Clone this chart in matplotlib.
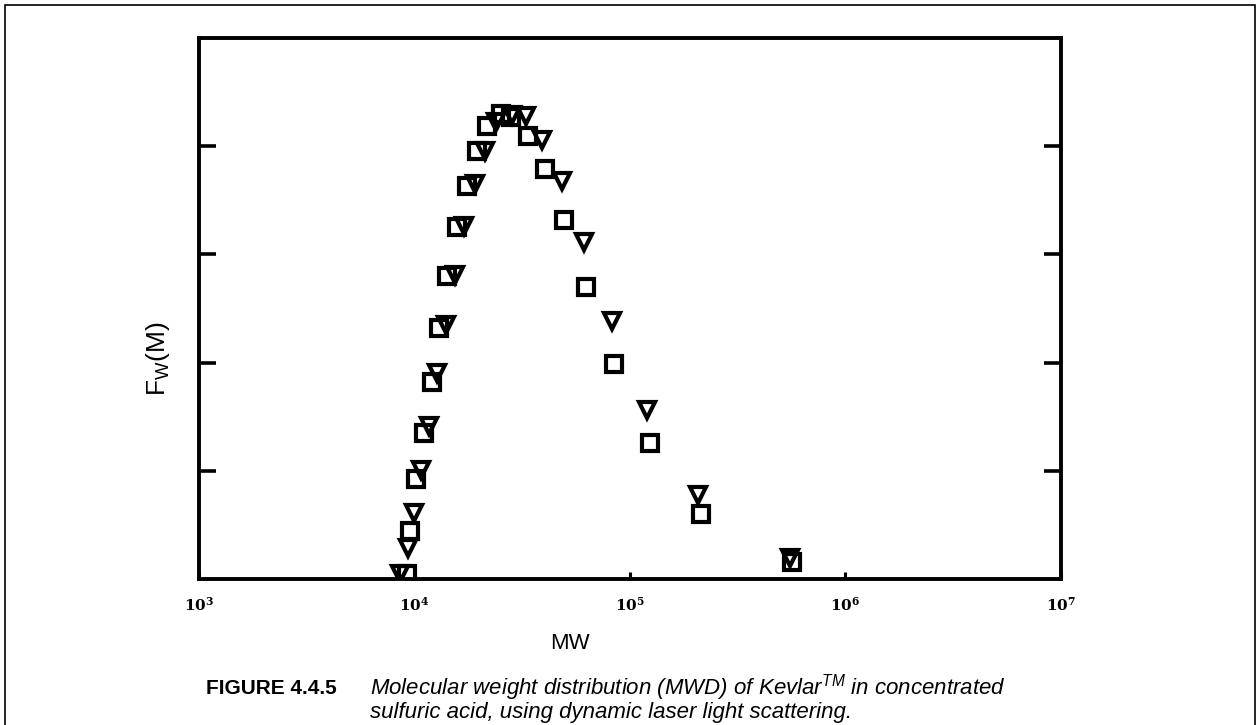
import matplotlib
matplotlib.use("Agg")
import matplotlib.pyplot as plt
from matplotlib.patches import Rectangle

# MWD of Kevlar in sulfuric acid
# squares (open)
sq_mw = [9180, 9570, 10200, 11120, 11990, 12920, 14220, 15820, 17590, 19570,
         21780, 25290, 28120, 33720, 40390, 49440, 62520, 84300, 123900,
         213400, 562300]
sq_fw = [0.05, 0.44, 0.92, 1.35, 1.82, 2.32, 2.80, 3.25, 3.63, 3.96,
         4.19, 4.30, 4.27, 4.09, 3.79, 3.32, 2.70, 1.99, 1.26,
         0.60, 0.16]
# triangles (open, pointing down)
tri_mw = [8530, 9290, 9890, 10660, 11730, 12770, 14060, 15480, 17030, 19130,
          21310, 23970, 28450, 33040, 39170, 48410, 61230, 82600, 119900,
          206600, 550600]
tri_fw = [0.05, 0.29, 0.61, 1.01, 1.41, 1.90, 2.35, 2.81, 3.26, 3.65,
          3.96, 4.22, 4.29, 4.28, 4.06, 3.68, 3.11, 2.38, 1.56,
          0.78, 0.19]

xticks = [1e3, 1e4, 1e5, 1e6, 1e7]
xlabels = [r'$\mathbf{10^{3}}$', r'$\mathbf{10^{4}}$', r'$\mathbf{10^{5}}$',
           r'$\mathbf{10^{6}}$', r'$\mathbf{10^{7}}$']

plt.rcParams['mathtext.fontset'] = 'dejavuserif'

fig = plt.figure(figsize=(12.6, 7.25), dpi=100)
ax = fig.add_axes([0.158, 0.2014, 0.684, 0.7462])

ax.plot(tri_mw, tri_fw, linestyle='none', marker='v', markersize=12,
        mfc='none', mec='black', mew=3.0)
ax.plot(sq_mw, sq_fw, linestyle='none', marker='s', markersize=11,
        mfc='none', mec='black', mew=3.0)

ax.set_xscale('log')
ax.set_xlim(1e3, 1e7)
ax.set_ylim(0, 5)

ax.set_xticks(xticks)
ax.set_xticklabels(xlabels, fontsize=11)
ax.minorticks_off()
ax.set_yticks([1, 2, 3, 4])
ax.set_yticklabels([])
ax.tick_params(axis='y', direction='in', length=12, width=2.6, left=True, right=True)
ax.tick_params(axis='x', direction='in', length=5, width=2.2, pad=12)

for s in ax.spines.values():
    s.set_linewidth(2.8)

# axis titles (hand-placed like in the scan, MW sits left of centre)
fig.text(0.452, 0.113, 'MW', fontsize=16, family='Liberation Sans',
         ha='center', va='center')
fig.text(0.125, 0.505, r'F$_\mathregular{W}$(M)', fontsize=19, family='Liberation Sans',
         rotation=90, ha='center', va='center')

# caption
fig.text(0.1635, 0.051, 'FIGURE 4.4.5', fontsize=15, fontweight='bold',
         family='Liberation Sans', va='center')
fig.text(0.2937, 0.051, r'Molecular weight distribution (MWD) of Kevlar$^{\mathregular{TM}}$ in concentrated',
         fontsize=16, style='italic', family='Liberation Sans', va='center')
fig.text(0.2937, 0.017, 'sulfuric acid, using dynamic laser light scattering.',
         fontsize=16, style='italic', family='Liberation Sans', va='center')

# border around the figure
fig.patches.append(Rectangle((0.004, -0.02), 0.992, 1.013, transform=fig.transFigure,
                             fill=False, edgecolor='black', linewidth=1.2))

fig.savefig('out.png', dpi=100)
